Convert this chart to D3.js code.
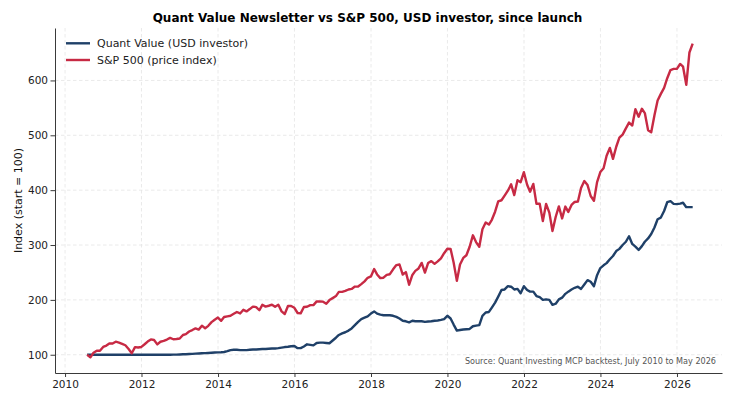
<!DOCTYPE html>
<meta charset="utf-8">
<style>

body {
  margin: 0;
  background: #fff;
  font-family: "DejaVu Sans", sans-serif;
}

.grid line {
  stroke: #e4e4e4;
  stroke-width: 0.8;
  stroke-dasharray: 3.5,2.5;
}

.axis path,
.axis line {
  fill: none;
  stroke: #3a3a3a;
}

.axis text {
  font-family: "DejaVu Sans", sans-serif;
  font-size: 10.5px;
  fill: #222;
}

</style>
<body>
<svg width="735" height="404"></svg>
<script src="https://d3js.org/d3.v7.min.js"></script>
<script>

// Monthly series, first month July 2010 (month-end values, start = 100)
var startYear = 2010, startMonth = 7;

var quantValue = [
  100, 100, 100, 100, 100, 100,                                        // 2010 Jul-Dec
  100, 100, 100, 100, 100, 100, 100, 100, 100, 100, 100, 100,          // 2011
  100, 100, 100, 100, 100, 100, 100, 100, 100.1, 100.2, 100.3, 100.5,  // 2012
  100.8, 101, 101.3, 101.6, 102, 102.3, 102.6, 103, 103.3, 103.6, 104, 104.3, // 2013
  104.5, 105, 106.5, 108.5, 109, 109, 108.5, 108.5, 108.5, 109, 109.5, 109.5, // 2014
  110, 110.5, 110.5, 111, 111.5, 111.5, 112, 113, 114, 114.5, 115.5, 116,     // 2015
  112, 112, 115, 119, 118, 117, 121.5, 122, 122, 121.5, 121, 126,             // 2016
  131, 136, 139, 141, 144, 148, 154, 160, 165, 167.5, 170, 175,               // 2017
  179, 175, 173, 172, 172, 172, 171, 169, 166, 162, 161, 159,                 // 2018
  162, 161, 161, 161, 160, 160.5, 161, 162, 162.5, 163.5, 165, 171,           // 2019
  166, 155, 144, 145, 146, 146.5, 147, 152, 153, 154, 171, 177,               // 2020
  178, 186, 195, 206, 218, 219, 225, 224, 219, 220, 212, 225,                 // 2021
  218, 215, 215, 207, 205, 200, 201, 200, 191, 193, 201, 204,                 // 2022
  211, 215, 219, 222, 224, 220, 228, 236, 233, 225, 245, 258,                 // 2023
  263, 267, 274, 280, 289, 293, 300, 306, 316, 302, 297, 291,                 // 2024
  298, 306, 312, 320, 332, 347, 350, 362, 378, 380, 375, 374.5,               // 2025
  375.5, 377, 369, 369, 369                                                   // 2026 Jan-May
];

var sp500 = [
  100.0, 95.3, 103.6, 107.4, 107.2, 114.2,                                    // 2010 Jul-Dec
  116.7, 120.5, 120.4, 123.8, 122.1, 119.9, 117.3, 110.6, 102.7, 113.8, 113.2, 114.2, // 2011
  119.1, 124.0, 127.9, 126.9, 118.9, 123.7, 125.2, 127.7, 130.8, 128.2, 128.6, 129.5, // 2012
  136.0, 137.5, 142.4, 145.0, 148.0, 145.8, 153.0, 148.2, 152.7, 159.5, 163.9, 167.8, // 2013
  161.8, 168.8, 170.0, 171.0, 174.6, 177.9, 175.3, 181.9, 179.0, 183.2, 187.7, 186.9, // 2014
  181.1, 191.0, 187.7, 189.3, 191.3, 187.3, 191.0, 179.0, 174.3, 188.8, 188.9, 185.5, // 2015
  176.1, 175.4, 187.0, 187.5, 190.4, 190.5, 197.3, 197.1, 196.8, 193.0, 199.6, 203.2, // 2016
  206.9, 214.6, 214.5, 216.4, 218.9, 220.0, 224.2, 224.4, 228.7, 233.8, 240.3, 242.7, // 2017
  256.3, 246.4, 239.7, 240.4, 245.6, 246.8, 255.7, 263.4, 264.5, 246.2, 250.6, 227.6, // 2018
  245.5, 252.8, 257.3, 267.4, 249.8, 267.1, 270.6, 265.7, 270.2, 275.7, 285.1, 293.3, // 2019
  292.8, 268.2, 234.6, 264.4, 276.4, 281.4, 296.9, 317.7, 305.3, 296.8, 328.8, 341.0, // 2020
  337.2, 346.0, 360.7, 379.6, 381.6, 390.1, 399.0, 410.6, 391.0, 418.1, 414.6, 432.7, // 2021
  409.9, 397.1, 411.3, 375.1, 375.1, 343.6, 374.9, 359.0, 325.5, 351.5, 370.4, 348.5, // 2022
  370.1, 360.4, 373.0, 378.5, 379.4, 404.0, 416.6, 409.2, 389.3, 380.7, 414.7, 433.0, // 2023
  439.9, 462.6, 477.0, 457.1, 479.1, 495.7, 501.3, 512.7, 523.1, 517.9, 547.6, 533.9, // 2024
  548.3, 540.5, 509.4, 505.6, 536.6, 563.3, 575.5, 586.4, 604, 619, 621, 621,         // 2025
  630, 625, 592, 651, 667                                                              // 2026 Jan-May
];

var seriesNames = ["Quant Value (USD investor)", "S&P 500 (price index)"];
var seriesColors = ["#1f4068", "#c72a44"];
var yTicks = [100, 200, 300, 400, 500, 600];
var xTickYears = [2010, 2012, 2014, 2016, 2018, 2020, 2022, 2024, 2026];

var titleText = "Quant Value Newsletter vs S&P 500, USD investor, since launch";
var yLabel = "Index (start = 100)";
var sourceText = "Source: Quant Investing MCP backtest, July 2010 to May 2026";

// month-end dates
var dates = quantValue.map(function(d, i) {
  return new Date(startYear, startMonth + i, 0);
});

var series = [quantValue, sp500].map(function(vals, k) {
  return {
    name: seriesNames[k],
    color: seriesColors[k],
    values: vals.map(function(v, i) { return {date: dates[i], v: v}; })
  };
});

var svg = d3.select("svg"),
    margin = {top: 28, right: 13, bottom: 31, left: 55},
    width = +svg.attr("width") - margin.left - margin.right,
    height = +svg.attr("height") - margin.top - margin.bottom;

var x = d3.scaleTime()
    .domain([new Date(2009, 8, 27), new Date(2027, 2, 7)])
    .range([0, width]);

var allVals = quantValue.concat(sp500),
    vmin = d3.min(allVals), vmax = d3.max(allVals),
    pad = (vmax - vmin) * 0.05;

var y = d3.scaleLinear()
    .domain([vmin - pad, vmax + pad])
    .range([height, 0]);

var g = svg.append("g")
    .attr("transform", "translate(" + margin.left + "," + margin.top + ")");

var xTicks = xTickYears.map(function(yr) { return new Date(yr, 0, 1); });

// grid
var grid = g.append("g").attr("class", "grid");
grid.selectAll(".gx")
  .data(xTicks)
  .enter().append("line")
    .attr("x1", function(d) { return x(d); })
    .attr("x2", function(d) { return x(d); })
    .attr("y1", 0)
    .attr("y2", height);
grid.selectAll(".gy")
  .data(yTicks)
  .enter().append("line")
    .attr("x1", 0)
    .attr("x2", width)
    .attr("y1", function(d) { return y(d); })
    .attr("y2", function(d) { return y(d); });

// lines
var line = d3.line()
    .x(function(d) { return x(d.date); })
    .y(function(d) { return y(d.v); });

g.selectAll(".series")
  .data(series)
  .enter().append("path")
    .attr("class", "series")
    .attr("fill", "none")
    .attr("stroke", function(d) { return d.color; })
    .attr("stroke-width", 2.4)
    .attr("stroke-linejoin", "round")
    .attr("d", function(d) { return line(d.values); });

// axes
g.append("g")
    .attr("class", "axis axis--x")
    .attr("transform", "translate(0," + height + ")")
    .call(d3.axisBottom(x).tickValues(xTicks).tickFormat(d3.timeFormat("%Y"))
      .tickSize(4).tickSizeOuter(0).tickPadding(4));

g.append("g")
    .attr("class", "axis axis--y")
    .call(d3.axisLeft(y).tickValues(yTicks).tickSize(4.5).tickSizeOuter(0).tickPadding(2.5));

// y label
svg.append("text")
    .attr("transform", "translate(22," + (margin.top + height / 2) + ") rotate(-90)")
    .style("text-anchor", "middle")
    .style("font-size", "11px")
    .style("fill", "#111")
    .text(yLabel);

// title
svg.append("text")
    .attr("x", 367.5)
    .attr("y", 22)
    .style("text-anchor", "middle")
    .style("font-size", "12px")
    .style("font-weight", "bold")
    .style("fill", "#000")
    .text(titleText);

// source note
g.append("text")
    .attr("x", width - 6)
    .attr("y", height - 9)
    .style("text-anchor", "end")
    .style("font-size", "8.1px")
    .style("fill", "#555")
    .text(sourceText);

// legend
var legend = g.selectAll(".legend")
  .data(series)
  .enter().append("g")
    .attr("class", "legend")
    .attr("transform", function(d, i) { return "translate(11," + (15.3 + i * 16.7) + ")"; });

legend.append("line")
    .attr("x1", 0)
    .attr("x2", 24)
    .attr("stroke", function(d) { return d.color; })
    .attr("stroke-width", 2.4);

legend.append("text")
    .attr("x", 31)
    .attr("dy", "0.35em")
    .style("font-size", "11px")
    .style("fill", "#222")
    .text(function(d) { return d.name; });

</script>
